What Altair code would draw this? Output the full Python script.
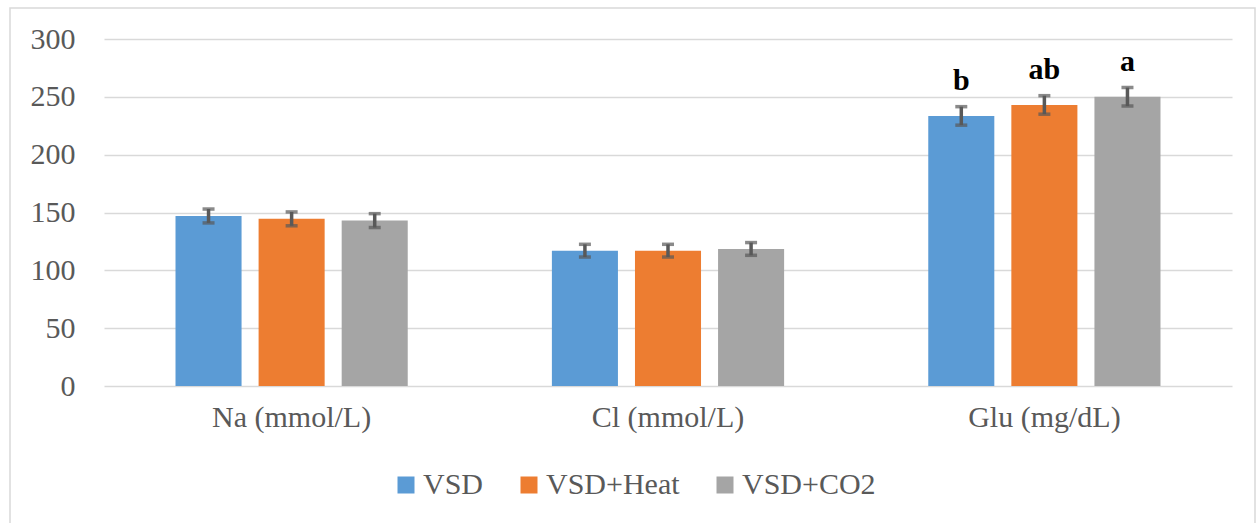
import altair as alt
import pandas as pd

categories = ["Na (mmol/L)", "Cl (mmol/L)", "Glu (mg/dL)"]
groups = ["VSD", "VSD+Heat", "VSD+CO2"]
colors = ["#5b9bd5", "#ed7d31", "#a5a5a5"]

vsd = [147, 117, 233.5]
heat = [144.5, 117, 243]
co2 = [143, 118.5, 250]

vsd_err = [6, 5.5, 8]
heat_err = [6, 5.5, 8]
co2_err = [6, 5.5, 8]

vsd_sig = ["", "", "b"]
heat_sig = ["", "", "ab"]
co2_sig = ["", "", "a"]

rows = []
for g, vals, errs, sigs in [
    ("VSD", vsd, vsd_err, vsd_sig),
    ("VSD+Heat", heat, heat_err, heat_sig),
    ("VSD+CO2", co2, co2_err, co2_sig),
]:
    for c, v, e, s in zip(categories, vals, errs, sigs):
        rows.append({"cat": c, "group": g, "value": v, "lo": v - e, "hi": v + e, "sig": s})
df = pd.DataFrame(rows)

FONT = "Liberation Serif"
GRAY = "#595959"

x = alt.X(
    "cat:N",
    sort=categories,
    scale=alt.Scale(paddingInner=0.383, paddingOuter=0.19),
    axis=alt.Axis(
        title=None, labelAngle=0, domain=False, ticks=False,
        labelFont=FONT, labelFontSize=30, labelColor=GRAY, labelPadding=16,
    ),
)
xo = alt.XOffset("group:N", sort=groups, scale=alt.Scale(paddingInner=0.205, paddingOuter=0))

base = alt.Chart(df)

bars = base.mark_bar().encode(
    x=x,
    xOffset=xo,
    y=alt.Y(
        "value:Q",
        scale=alt.Scale(domain=[0, 300]),
        axis=alt.Axis(
            title=None, values=[0, 50, 100, 150, 200, 250, 300],
            grid=True, gridColor="#d9d9d9", gridWidth=1.5,
            domain=False, ticks=False,
            labelFont=FONT, labelFontSize=30, labelColor=GRAY, labelPadding=29,
        ),
    ),
    color=alt.Color(
        "group:N",
        sort=groups,
        scale=alt.Scale(domain=groups, range=colors),
        legend=alt.Legend(
            orient="none", legendX=287, legendY=431, direction="horizontal",
            title=None, symbolType="square", symbolSize=289, symbolStrokeWidth=0,
            labelFont=FONT, labelFontSize=30, labelColor=GRAY, labelOffset=2,
            columnPadding=30, labelLimit=400,
        ),
    ),
)

rules = base.mark_rule(color=GRAY, strokeWidth=3.5).encode(
    x=x, xOffset=xo, y="lo:Q", y2="hi:Q"
)
cap_lo = base.mark_tick(color=GRAY, size=12, thickness=3.5).encode(x=x, xOffset=xo, y="lo:Q")
cap_hi = base.mark_tick(color=GRAY, size=12, thickness=3.5).encode(x=x, xOffset=xo, y="hi:Q")

labels = base.mark_text(
    font=FONT, fontWeight="bold", fontSize=30, color="black",
    baseline="alphabetic", dy=-17,
).encode(x=x, xOffset=xo, y="hi:Q", text="sig:N")

border = alt.Chart(pd.DataFrame({"a": [0]})).mark_rect(
    fillOpacity=0, stroke="#d9d9d9", strokeWidth=1.5
).encode(
    x=alt.value(-94), x2=alt.value(1151), y=alt.value(-31), y2=alt.value(495)
)

chart = alt.layer(border, bars, rules, cap_lo, cap_hi, labels).properties(
    width=1128,
    height=347,
    padding={"left": 104, "top": 39, "right": 27, "bottom": 137},
    autosize=alt.AutoSizeParams(type="none"),
    background="white",
).configure(font=FONT).configure_view(stroke=None).configure_axis(
    labelFont=FONT
).configure_legend(
    labelFont=FONT
)

chart.save("out.html", embed_options={"renderer": "svg", "actions": False})
